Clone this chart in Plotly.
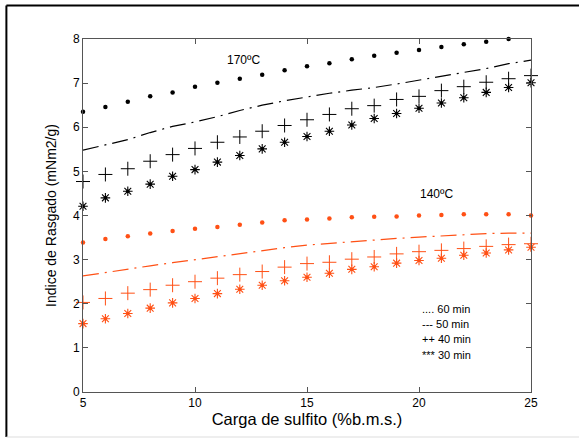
import plotly.graph_objects as go

carga = list(range(5, 26))

# 170 ºC
b60 = [6.35, 6.46, 6.58, 6.70, 6.79, 6.92, 7.01, 7.10, 7.19, 7.29, 7.38, 7.45, 7.54, 7.62, 7.69, 7.75, 7.82, 7.88, 7.94, 8.00]
b50 = [5.48, 5.60, 5.72, 5.88, 6.02, 6.12, 6.24, 6.38, 6.50, 6.60, 6.69, 6.77, 6.84, 6.90, 6.98, 7.07, 7.15, 7.24, 7.33, 7.44, 7.52]
b40 = [4.77, 4.93, 5.06, 5.23, 5.38, 5.52, 5.66, 5.78, 5.91, 6.04, 6.17, 6.29, 6.42, 6.49, 6.63, 6.70, 6.83, 6.92, 7.02, 7.10, 7.17]
b30 = [4.21, 4.40, 4.55, 4.71, 4.89, 5.04, 5.21, 5.36, 5.51, 5.66, 5.79, 5.91, 6.05, 6.20, 6.31, 6.43, 6.55, 6.67, 6.79, 6.90, 7.01]

# 140 ºC
o60 = [3.39, 3.47, 3.53, 3.59, 3.65, 3.70, 3.74, 3.79, 3.84, 3.89, 3.91, 3.93, 3.96, 3.97, 3.98, 4.00, 4.01, 4.03, 4.03, 4.03, 4.00]
o50 = [2.63, 2.71, 2.78, 2.86, 2.93, 3.00, 3.07, 3.14, 3.20, 3.27, 3.33, 3.37, 3.41, 3.44, 3.48, 3.51, 3.54, 3.57, 3.59, 3.60, 3.60]
o40 = [2.03, 2.12, 2.24, 2.32, 2.42, 2.50, 2.58, 2.66, 2.73, 2.83, 2.91, 2.94, 3.01, 3.06, 3.13, 3.18, 3.21, 3.25, 3.30, 3.34, 3.36]
o30 = [1.55, 1.66, 1.78, 1.90, 2.02, 2.12, 2.23, 2.33, 2.42, 2.52, 2.60, 2.69, 2.78, 2.84, 2.92, 2.98, 3.03, 3.10, 3.15, 3.22, 3.28]

legend_lines = [".... 60 min", "--- 50 min", "++ 40 min", "*** 30 min"]
legend_y = [1.88, 1.54, 1.20, 0.84]

BLACK = "#000000"
ORANGE = "#FF5015"
FONT = "Liberation Sans, Arial, sans-serif"
DASH = "16px,6px,2px,6px"

fig = go.Figure()

def add_group(color, v60, v50, v40, v30):
    fig.add_trace(go.Scatter(x=carga[:len(v60)], y=v60, mode="markers",
                             marker=dict(symbol="circle", size=4.5, color=color),
                             cliponaxis=False, showlegend=False))
    fig.add_trace(go.Scatter(x=carga, y=v50, mode="lines",
                             line=dict(color=color, width=1.2, dash=DASH),
                             showlegend=False))
    fig.add_trace(go.Scatter(x=carga, y=v40, mode="markers",
                             marker=dict(symbol="cross-thin", size=10,
                                         line=dict(color=color, width=1)),
                             cliponaxis=False, showlegend=False))
    fig.add_trace(go.Scatter(x=carga, y=v30, mode="markers",
                             marker=dict(symbol="asterisk", size=8,
                                         line=dict(color=color, width=1.1)),
                             cliponaxis=False, showlegend=False))
    fig.add_trace(go.Scatter(x=carga, y=v30, mode="markers",
                             marker=dict(symbol="circle", size=3.5, color=color),
                             cliponaxis=False, showlegend=False))

add_group(BLACK, b60, b50, b40, b30)
add_group(ORANGE, o60, o50, o40, o30)

annotations = [
    dict(x=12.18, y=7.53, text="170ºC", showarrow=False, xref="x", yref="y",
         font=dict(size=12, color="#000", family=FONT)),
    dict(x=20.8, y=4.49, text="140ºC", showarrow=False, xref="x", yref="y",
         font=dict(size=12, color="#000", family=FONT)),
]
for txt, yy in zip(legend_lines, legend_y):
    annotations.append(dict(x=20.05, y=yy, text=txt, showarrow=False, xref="x", yref="y",
                            xanchor="left", font=dict(size=11, color="#000", family=FONT)))

axis_common = dict(showgrid=False, zeroline=False, showline=True, linecolor="#555",
                   linewidth=1, mirror="ticks", ticks="inside", ticklen=5,
                   tickcolor="#555", automargin=False,
                   tickfont=dict(size=12, color="#000", family=FONT))

fig.update_layout(
    width=579, height=439,
    margin=dict(l=83, r=48, t=39, b=47),
    paper_bgcolor="white", plot_bgcolor="white",
    font=dict(family=FONT, color="#000"),
    annotations=annotations,
    xaxis=dict(range=[5, 25], tickvals=[5, 10, 15, 20, 25],
               title=dict(text="Carga de sulfito (%b.m.s.)", font=dict(size=16.5, family=FONT), standoff=3),
               **axis_common),
    yaxis=dict(range=[0, 8], tickvals=list(range(0, 9)),
               title=dict(text="Indice de Rasgado (mNm2/g)", font=dict(size=14, family=FONT), standoff=13),
               **axis_common),
    shapes=[
        dict(type="line", xref="paper", yref="paper", x0=-0.171, x1=1.2, y0=1.095, y1=1.095,
             line=dict(color="#000", width=2)),
        dict(type="line", xref="paper", yref="paper", x0=-0.171, x1=-0.171, y0=1.095, y1=-0.1275,
             line=dict(color="#000", width=2)),
        dict(type="line", xref="paper", yref="paper", x0=-0.171, x1=1.2, y0=-0.1275, y1=-0.1275,
             line=dict(color="#ddd", width=1)),
    ],
)

fig.write_html("out.html", config={"displayModeBar": False},
               post_script="document.body.style.margin='0';document.body.style.overflow='hidden';")
